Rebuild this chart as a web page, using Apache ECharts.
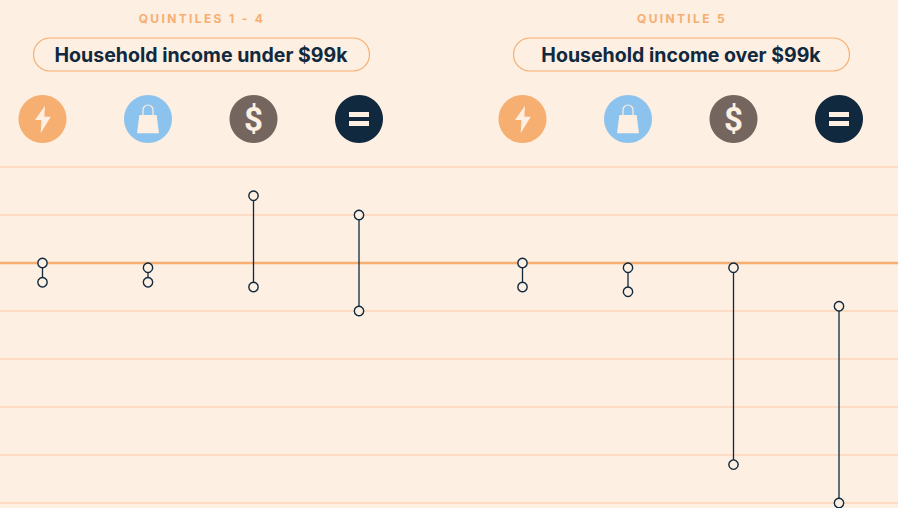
<!DOCTYPE html>
<html><head><meta charset="utf-8">
<style>html,body{margin:0;padding:0;background:#fdefe2}#c{width:898px;height:508px}</style>
<script src="https://cdn.jsdelivr.net/npm/echarts@6/dist/echarts.min.js"></script>
</head><body><div id="c"></div>
<script>
// Data (one gridline = 1 unit; 0 = the heavy baseline)
const categories = ['Energy', 'Shopping', 'Income', 'Net'];
const under99Start = [0, -0.1, 1.4, 1];
const under99End = [-0.4, -0.4, -0.5, -1];
const over99Start = [0, -0.1, -0.1, -0.9];
const over99End = [-0.5, -0.6, -4.2, -5];
const groupKickers = ['QUINTILES 1 - 4', 'QUINTILE 5'];
const groupTitles = ['Household income under $99k', 'Household income over $99k'];

const BG = '#fdefe2', ORANGE = '#f6ae71', NAVY = '#10293e', BLUE = '#8cc3ee', BROWN = '#74665e', GRID = '#fbd7b8';
const STEP = 105.5, GROUP_X = [42.5, 522.5];
const iconY = 119;

function rangeItem(params, api) {
  const x = api.coord([api.value(0), 0])[0];
  const y1 = api.coord([api.value(0), api.value(1)])[1];
  const y2 = api.coord([api.value(0), api.value(2)])[1];
  const dot = y => ({type: 'circle', shape: {cx: x, cy: y, r: 4.7}, style: {fill: BG, stroke: NAVY, lineWidth: 1.4}});
  return {type: 'group', children: [
    {type: 'line', shape: {x1: x, y1, x2: x, y2}, style: {stroke: NAVY, lineWidth: 1.3}},
    dot(y1), dot(y2)
  ]};
}
const rows = (a, b) => categories.map((c, i) => [i, a[i], b[i]]);

function icons(x0) {
  const x = i => x0 + STEP * i;
  const cr = BG;
  const circle = (i, fill) => ({type: 'circle', silent: true, shape: {cx: x(i), cy: iconY, r: 24}, style: {fill}});
  const poly = (i, pts) => ({type: 'polygon', silent: true, shape: {points: pts.map(p => [x(i) + p[0], iconY + p[1]])}, style: {fill: cr}});
  return [
    circle(0, ORANGE), poly(0, [[2.5,-13.3],[-7.5,1],[-1,1],[-1.8,14.3],[8.2,-2.3],[1.8,-2.3]]),
    circle(1, BLUE), poly(1, [[-8.7,-4],[8.7,-4],[11,14.3],[-11,14.3]]),
    {type: 'arc', silent: true, shape: {cx: x(1), cy: iconY - 9, r: 5, startAngle: Math.PI, endAngle: 2 * Math.PI, clockwise: true},
      style: {fill: 'none', stroke: cr, lineWidth: 1.2}},
    {type: 'line', silent: true, shape: {x1: x(1) - 5, y1: iconY - 9, x2: x(1) - 5, y2: iconY - 4}, style: {stroke: cr, lineWidth: 1.2}},
    {type: 'line', silent: true, shape: {x1: x(1) + 5, y1: iconY - 9, x2: x(1) + 5, y2: iconY - 4}, style: {stroke: cr, lineWidth: 1.2}},
    circle(2, BROWN),
    {type: 'text', silent: true, style: {x: x(2), y: iconY + 0.5, text: '$', fill: cr, font: '700 33px Roboto', align: 'center', verticalAlign: 'middle'}},
    circle(3, NAVY),
    {type: 'rect', silent: true, shape: {x: x(3) - 10, y: iconY - 7, width: 20, height: 5}, style: {fill: cr}},
    {type: 'rect', silent: true, shape: {x: x(3) - 10, y: iconY + 2, width: 20, height: 5}, style: {fill: cr}}
  ];
}
function header(i) {
  const left = [33, 513][i], cx = left + 168;
  return [
    {type: 'rect', silent: true, shape: {x: left + .5, y: 38, width: 336, height: 33, r: 16.5}, style: {fill: 'none', stroke: ORANGE, lineWidth: 1.2}},
    {type: 'text', silent: true, name: 'kicker', style: {x: cx + 1, y: 18, text: groupKickers[i], fill: ORANGE, font: '700 12px Inter', align: 'center', verticalAlign: 'middle'}},
    {type: 'text', silent: true, style: {x: cx, y: 55, text: groupTitles[i], fill: NAVY, font: '700 19.55px Inter', align: 'center', verticalAlign: 'middle'}}
  ];
}
const catGrid = x0 => ({left: x0 - STEP / 2, width: STEP * 4, top: 167, height: 336, outerBoundsMode: 'none'});
const catX = g => ({type: 'category', gridIndex: g, data: categories, show: false});
const hiddenY = g => ({type: 'value', gridIndex: g, min: -5, max: 2, interval: 1, show: false});

const chart = echarts.init(document.getElementById('c'), null, {renderer: 'svg'});
chart.setOption({
  animation: false,
  backgroundColor: BG,
  grid: [{left: 0, right: 0, top: 167, height: 336}, catGrid(GROUP_X[0]), catGrid(GROUP_X[1])],
  xAxis: [
    {type: 'value', gridIndex: 0, min: 0, max: 1, splitLine: {show: false}, axisLabel: {show: false}, axisTick: {show: false},
      axisLine: {show: true, onZero: true, lineStyle: {color: ORANGE, width: 2.4}}},
    catX(1), catX(2)
  ],
  yAxis: [
    {type: 'value', gridIndex: 0, min: -5, max: 2, interval: 1, axisLine: {show: false}, axisTick: {show: false}, axisLabel: {show: false},
      splitLine: {show: true, lineStyle: {color: GRID, width: 1.5}}},
    hiddenY(1), hiddenY(2)
  ],
  series: [
    {type: 'custom', xAxisIndex: 1, yAxisIndex: 1, renderItem: rangeItem, data: rows(under99Start, under99End), clip: false, silent: true},
    {type: 'custom', xAxisIndex: 2, yAxisIndex: 2, renderItem: rangeItem, data: rows(over99Start, over99End), clip: false, silent: true}
  ],
  graphic: [...header(0), ...header(1), ...icons(GROUP_X[0]), ...icons(GROUP_X[1])]
});
// Spaced-out kicker labels
document.querySelectorAll('#c svg text').forEach(t => {
  if (groupKickers.includes(t.textContent)) t.style.letterSpacing = '2.35px';
});
</script></body></html>
